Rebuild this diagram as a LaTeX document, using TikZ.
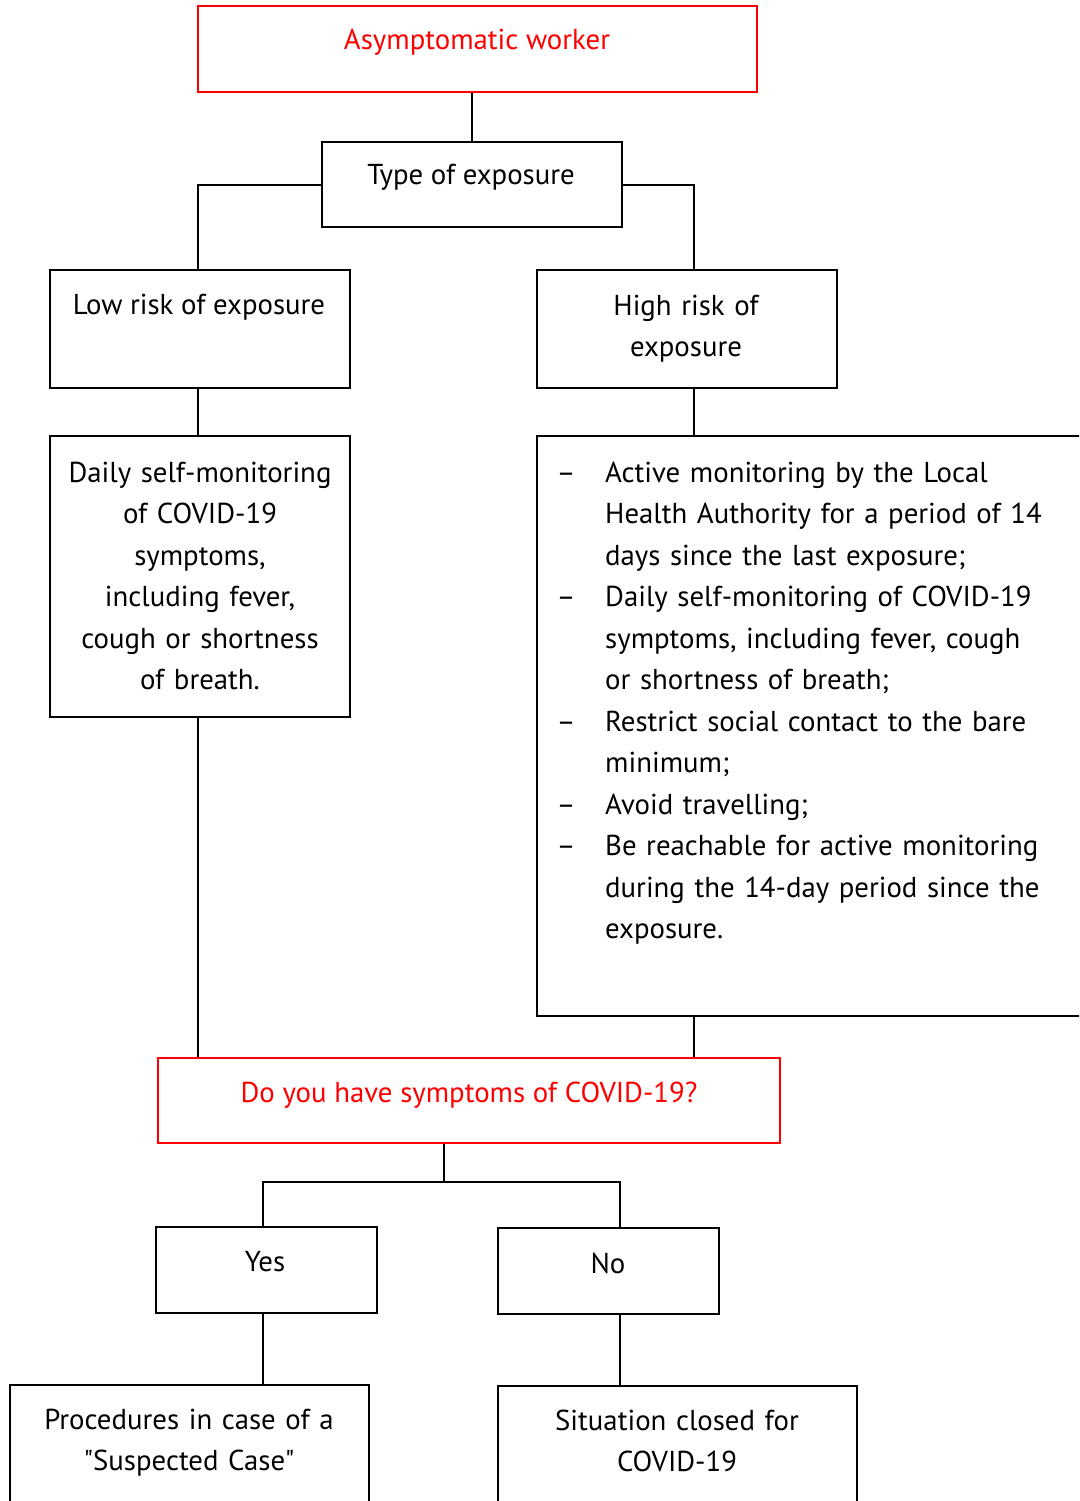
\documentclass[tikz,border=0pt]{standalone}
\usepackage{fontspec}
\setmainfont{PT Sans}[Ligatures=TeXOff]
\begin{document}
\begin{tikzpicture}[x=1pt,y=-1pt,
  box/.style={draw=black,line width=2.8pt,inner sep=0pt},
  redbox/.style={draw=red,line width=2.8pt,inner sep=0pt},
  conn/.style={draw=black,line width=2.8pt},
  txt/.style={inner sep=0pt,anchor=base,align=center,font=\fontsize{28.8}{41.5}\selectfont},
  wtxt/.style={txt,text width=#1},
]
\useasboundingbox (0,0) rectangle (1079,1501);
\clip (0,0) rectangle (1079,1501);
\fill[white] (0,0) rectangle (1079,1501);
% boxes
\node[redbox,minimum width=559pt,minimum height=86pt] (asym) at (477.5,49) {};
\node[box,minimum width=300pt,minimum height=85pt] (type) at (472,184.5) {};
\node[box,minimum width=300pt,minimum height=118pt] (low) at (200,329) {};
\node[box,minimum width=300pt,minimum height=118pt] (high) at (687,329) {};
\node[box,minimum width=300pt,minimum height=281pt] (daily) at (200,576.5) {};
\node[box,minimum width=600pt,minimum height=580pt] (active) at (837,726) {};
\node[redbox,minimum width=622pt,minimum height=85pt] (ask) at (469,1100.5) {};
\node[box,minimum width=221pt,minimum height=86pt] (yes) at (266.5,1270) {};
\node[box,minimum width=221pt,minimum height=86pt] (no) at (608.5,1271) {};
\node[box,minimum width=359pt,minimum height=200pt] (proc) at (189.5,1485) {};
\node[box,minimum width=359pt,minimum height=200pt] (sit) at (677.5,1486) {};
% texts
\node[txt,text=red] (tasym) at (477,50) {Asymptomatic worker};
\node[txt] (ttype) at (471,184) {Type of exposure};
\node[txt] (tlow) at (199,314) {Low risk of exposure};
\node[wtxt=290pt] (thigh) at (686,315) {High risk of\\exposure};
\node[wtxt=290pt] (tdaily) at (200,482) {Daily self-monitoring\\of COVID-19\\symptoms,\\including fever,\\cough or shortness\\of breath.};
\node[txt,text=red] (task) at (469,1102) {Do you have symptoms of COVID-19?};
\node[txt] (tyes) at (265,1271) {Yes};
\node[txt] (tno) at (608,1273) {No};
\node[wtxt=355pt] (tproc) at (189,1429) {Procedures in case of a\\"Suspected Case"};
\node[wtxt=355pt] (tsit) at (677,1430) {Situation closed for\\COVID-19};
% list
\node[txt,anchor=base west,align=left,text width=470pt] (tlist) at (605,482) {Active monitoring by the Local\\Health Authority for a period of 14\\days since the last exposure;\\Daily self-monitoring of COVID-19\\symptoms, including fever, cough\\or shortness of breath;\\Restrict social contact to the bare\\minimum;\\Avoid travelling;\\Be reachable for active monitoring\\during the 14-day period since the\\exposure.};
\node[txt] (d1) at (566,482) {–};
\node[txt] (d2) at (566,606.5) {–};
\node[txt] (d3) at (566,731) {–};
\node[txt] (d4) at (566,814) {–};
\node[txt] (d5) at (566,855.5) {–};
% connectors
\draw[conn] (asym.south -| type.north) -- (type.north);
\coordinate (tl) at (198,185);
\coordinate (tr) at (694,185);
\draw[conn] (type.west |- tl) -- (tl) -- (tl |- low.north);
\draw[conn] (type.east |- tr) -- (tr) -- (tr |- high.north);
\draw[conn] (low.south -| tl) -- (daily.north -| tl);
\draw[conn] (high.south -| tr) -- (active.north -| tr);
\draw[conn] (daily.south -| tl) -- (ask.north -| tl);
\draw[conn] (active.south -| tr) -- (ask.north -| tr);
\coordinate (ab) at (444,1182);
\coordinate (yl) at (263,1182);
\coordinate (nr) at (620,1182);
\draw[conn] (ask.south -| ab) -- (ab);
\draw[conn] (yes.north -| yl) -- (yl) -- (nr) -- (no.north -| nr);
\draw[conn] (yes.south -| yl) -- (proc.north -| yl);
\draw[conn] (no.south -| nr) -- (sit.north -| nr);
\end{tikzpicture}
\end{document}
